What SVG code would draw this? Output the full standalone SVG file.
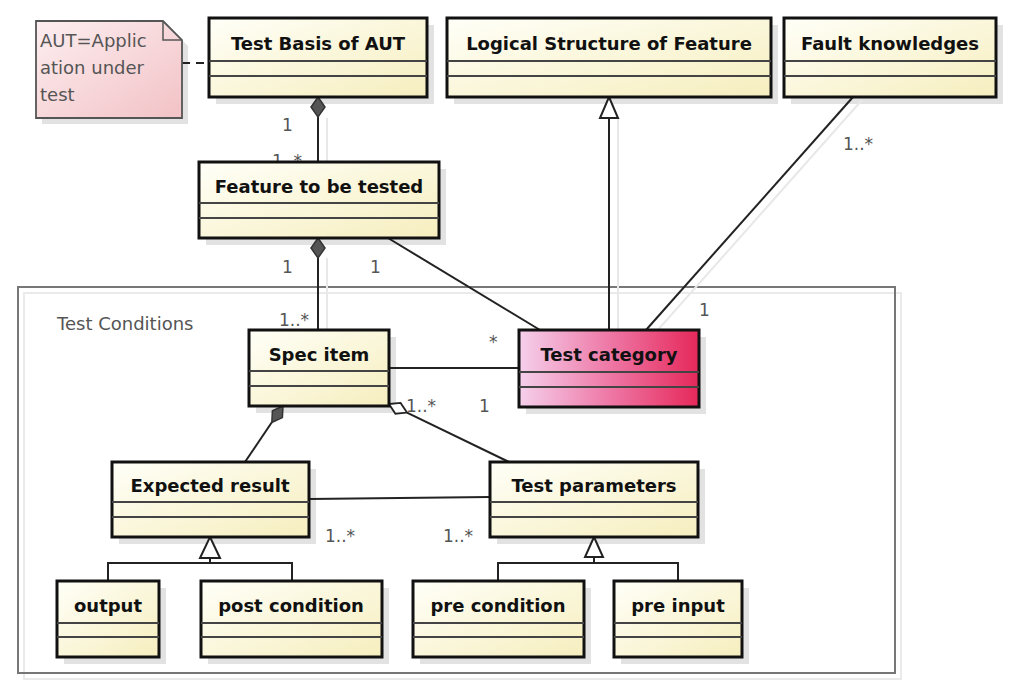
<svg xmlns="http://www.w3.org/2000/svg" width="1016" height="691" viewBox="0 0 1016 691">
<defs>
<linearGradient id="gy" x1="0" y1="0" x2="1" y2="1"><stop offset="0" stop-color="#fffff8"/><stop offset="1" stop-color="#f6eebe"/></linearGradient>
<linearGradient id="gp" x1="0" y1="0" x2="1" y2="0"><stop offset="0" stop-color="#f5d0ec"/><stop offset="0.5" stop-color="#ee78a6"/><stop offset="1" stop-color="#e5285a"/></linearGradient>
<linearGradient id="gn" x1="0" y1="0" x2="1" y2="1"><stop offset="0" stop-color="#fdeef0"/><stop offset="1" stop-color="#f2c2c6"/></linearGradient>
</defs>
<style>
.sh{fill:#e2e2e2}
.box{fill:url(#gy);stroke:#111;stroke-width:3}
.pink{fill:url(#gp);stroke:#111;stroke-width:3}
.sep{stroke:#444;stroke-width:2}
.t{font-family:"DejaVu Sans",sans-serif;font-weight:bold;font-size:18px;fill:#111;text-anchor:middle}
.l{font-family:"DejaVu Sans",sans-serif;font-size:17px;fill:#555}
.c{stroke:#222;stroke-width:2;fill:none}
.cs{stroke:#e8e8e8;stroke-width:2;fill:none}
</style>
<rect width="1016" height="691" fill="#fff"/>

<g id="test-conditions">
<rect x="24" y="293" width="877" height="386" fill="none" stroke="#eaeaea" stroke-width="2"/>
<rect x="18" y="287" width="877" height="386" fill="none" stroke="#777" stroke-width="2"/>
<text class="l" x="57" y="330" style="font-size:18px">Test Conditions</text>
</g>

<g id="shadows">
<path d="M42,27 H169 L188,46 V124 H42 Z" class="sh"/>
<rect class="sh" x="216" y="25" width="218" height="79"/>
<rect class="sh" x="454" y="25" width="324" height="79"/>
<rect class="sh" x="791" y="25" width="212" height="79"/>
<rect class="sh" x="206" y="169" width="240" height="76"/>
<rect class="sh" x="256" y="337" width="140" height="76"/>
<rect class="sh" x="526" y="337" width="180" height="77"/>
<rect class="sh" x="119" y="469" width="197" height="75"/>
<rect class="sh" x="497" y="469" width="208" height="75"/>
<rect class="sh" x="64" y="588" width="102" height="76"/>
<rect class="sh" x="208" y="588" width="181" height="76"/>
<rect class="sh" x="420" y="588" width="171" height="76"/>
<rect class="sh" x="621" y="588" width="128" height="76"/>
</g>

<g id="connectors">
<line class="cs" x1="327" y1="118" x2="327" y2="162"/>
<line class="cs" x1="618" y1="118" x2="618" y2="330"/>
<line class="cs" x1="862" y1="100" x2="656" y2="332"/>
<line class="cs" x1="327" y1="258" x2="327" y2="330"/>
<line class="c" x1="182" y1="63" x2="209" y2="63" stroke-dasharray="8,6"/>
<line class="c" x1="318" y1="117" x2="318" y2="162"/>
<polygon points="318,97 325,107 318,117 311,107" fill="#555" stroke="#333" stroke-width="1.5"/>
<line class="c" x1="318" y1="258" x2="318" y2="330"/>
<polygon points="318,238 325,248 318,258 311,248" fill="#555" stroke="#333" stroke-width="1.5"/>
<line class="c" x1="609" y1="118" x2="609" y2="330"/>
<polygon points="609,97 618,118 600,118" fill="#fff" stroke="#222" stroke-width="2"/>
<line class="c" x1="853" y1="97" x2="646" y2="330"/>
<line class="c" x1="388" y1="238" x2="540" y2="330"/>
<line class="c" x1="389" y1="368" x2="519" y2="368"/>
<line class="c" x1="407" y1="412.6" x2="509" y2="462"/>
<polygon points="389,404 400.6,402.9 407,412.6 395.4,413.7" fill="#fff" stroke="#222" stroke-width="1.8"/>
<line class="c" x1="272" y1="422" x2="245" y2="462"/>
<polygon points="283,406 282.4,417.6 271.8,422.5 272.4,410.8" fill="#555" stroke="#333" stroke-width="1.5"/>
<line class="c" x1="309" y1="499" x2="490" y2="497"/>
<polyline class="c" points="108,581 108,563 292,563 292,581"/>
<line class="c" x1="210" y1="558" x2="210" y2="563"/>
<polygon points="210,537 220,558 200,558" fill="#fff" stroke="#222" stroke-width="2"/>
<polyline class="c" points="498,581 498,563 678,563 678,581"/>
<line class="c" x1="594" y1="557" x2="594" y2="563"/>
<polygon points="594,537 603,557 585,557" fill="#fff" stroke="#222" stroke-width="2"/>
<text class="l" x="282" y="131">1</text>
<text class="l" x="272" y="167">1..*</text>
<text class="l" x="282" y="273">1</text>
<text class="l" x="370" y="273">1</text>
<text class="l" x="279" y="326">1..*</text>
<text class="l" x="489" y="348">*</text>
<text class="l" x="843" y="150">1..*</text>
<text class="l" x="699" y="316">1</text>
<text class="l" x="406" y="412">1..*</text>
<text class="l" x="479" y="412">1</text>
<text class="l" x="325" y="542">1..*</text>
<text class="l" x="443" y="542">1..*</text>
</g>

<g id="note">
<path d="M36,21 H163 L182,40 V118 H36 Z" fill="url(#gn)" stroke="#555" stroke-width="1.8"/>
<path d="M163,21 V40 H182" fill="none" stroke="#555" stroke-width="1.5"/>
<text class="l" x="40" y="47" style="font-size:18px">AUT=Applic</text>
<text class="l" x="40" y="74" style="font-size:18px">ation under</text>
<text class="l" x="40" y="101" style="font-size:18px">test</text>
</g>

<g id="test-basis">
<rect class="box" x="209" y="18" width="218" height="79"/>
<line class="sep" x1="209" y1="61" x2="427" y2="61"/><line class="sep" x1="209" y1="76" x2="427" y2="76"/>
<text class="t" x="318" y="50">Test Basis of AUT</text>
</g>

<g id="logical-structure">
<rect class="box" x="447" y="18" width="324" height="79"/>
<line class="sep" x1="447" y1="61" x2="771" y2="61"/><line class="sep" x1="447" y1="76" x2="771" y2="76"/>
<text class="t" x="609" y="50">Logical Structure of Feature</text>
</g>

<g id="fault-knowledges">
<rect class="box" x="784" y="18" width="212" height="79"/>
<line class="sep" x1="784" y1="61" x2="996" y2="61"/><line class="sep" x1="784" y1="76" x2="996" y2="76"/>
<text class="t" x="890" y="50">Fault knowledges</text>
</g>

<g id="feature">
<rect class="box" x="199" y="162" width="240" height="76"/>
<line class="sep" x1="199" y1="203" x2="439" y2="203"/><line class="sep" x1="199" y1="218" x2="439" y2="218"/>
<text class="t" x="319" y="193">Feature to be tested</text>
</g>

<g id="spec-item">
<rect class="box" x="249" y="330" width="140" height="76"/>
<line class="sep" x1="249" y1="371" x2="389" y2="371"/><line class="sep" x1="249" y1="386" x2="389" y2="386"/>
<text class="t" x="319" y="361">Spec item</text>
</g>

<g id="test-category">
<rect class="pink" x="519" y="330" width="180" height="77"/>
<line class="sep" x1="519" y1="372" x2="699" y2="372" stroke="#5a2a3a"/><line class="sep" x1="519" y1="387" x2="699" y2="387" stroke="#5a2a3a"/>
<text class="t" x="609" y="361">Test category</text>
</g>

<g id="expected-result">
<rect class="box" x="112" y="462" width="197" height="75"/>
<line class="sep" x1="112" y1="502" x2="309" y2="502"/><line class="sep" x1="112" y1="517" x2="309" y2="517"/>
<text class="t" x="210" y="492">Expected result</text>
</g>

<g id="test-parameters">
<rect class="box" x="490" y="462" width="208" height="75"/>
<line class="sep" x1="490" y1="502" x2="698" y2="502"/><line class="sep" x1="490" y1="517" x2="698" y2="517"/>
<text class="t" x="594" y="492">Test parameters</text>
</g>

<g id="output">
<rect class="box" x="57" y="581" width="102" height="76"/>
<line class="sep" x1="57" y1="623" x2="159" y2="623"/><line class="sep" x1="57" y1="637" x2="159" y2="637"/>
<text class="t" x="108" y="612">output</text>
</g>

<g id="post-condition">
<rect class="box" x="201" y="581" width="181" height="76"/>
<line class="sep" x1="201" y1="623" x2="382" y2="623"/><line class="sep" x1="201" y1="637" x2="382" y2="637"/>
<text class="t" x="291" y="612">post condition</text>
</g>

<g id="pre-condition">
<rect class="box" x="413" y="581" width="171" height="76"/>
<line class="sep" x1="413" y1="623" x2="584" y2="623"/><line class="sep" x1="413" y1="637" x2="584" y2="637"/>
<text class="t" x="498" y="612">pre condition</text>
</g>

<g id="pre-input">
<rect class="box" x="614" y="581" width="128" height="76"/>
<line class="sep" x1="614" y1="623" x2="742" y2="623"/><line class="sep" x1="614" y1="637" x2="742" y2="637"/>
<text class="t" x="678" y="612">pre input</text>
</g>
</svg>
